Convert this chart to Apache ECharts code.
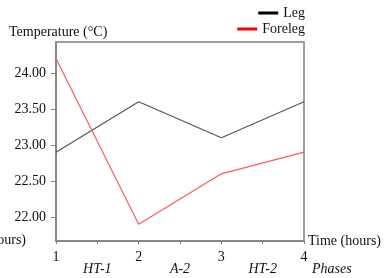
<!DOCTYPE html>
<html><head><meta charset="utf-8">
<script src="https://cdn.jsdelivr.net/npm/echarts@6/dist/echarts.min.js"></script>
<style>html,body{margin:0;padding:0;background:#fff}#c{width:385px;height:278px}</style>
</head><body><div id="c"></div>
<script>
const times = [1, 2, 3, 4];
const legValues = [22.9, 23.6, 23.1, 23.6];
const forelegValues = [24.2, 21.9, 22.6, 22.9];
const yTicks = [22.0, 22.5, 23.0, 23.5, 24.0];
const phaseLabels = {1.5: 'HT-1', 2.5: 'A-2', 3.5: 'HT-2'};
const seriesNames = ['Leg', 'Foreleg'];

const font = 'Liberation Serif';
const chart = echarts.init(document.getElementById('c'));
chart.setOption({
  animation: false,
  textStyle: {fontFamily: font},
  title: {text: 'Temperature (°C)', left: 4, top: 20,
    textStyle: {fontFamily: font, fontSize: 14, fontWeight: 'normal', color: '#111'}},
  legend: [
    {data: [seriesNames[0]], right: 80, top: 6, padding: 0, itemWidth: 20, itemHeight: 3, icon: 'rect',
      textStyle: {fontFamily: font, fontSize: 14, color: '#111'}, itemGap: 3},
    {data: [seriesNames[1]], right: 80, top: 22, padding: 0, itemWidth: 20, itemHeight: 3, icon: 'rect',
      textStyle: {fontFamily: font, fontSize: 14, color: '#111'}, itemGap: 3}
  ],
  grid: {left: 56, right: 81, top: 42, bottom: 37, show: true, borderColor: '#808080', borderWidth: 1.5},
  xAxis: [{
    type: 'value', min: 1, max: 4, interval: 0.5,
    axisLine: {lineStyle: {color: '#808080', width: 1.5}},
    axisTick: {show: true, length: 3, lineStyle: {color: '#808080'}},
    axisLabel: {margin: 9, fontSize: 14, color: '#111', fontFamily: font,
      formatter: v => Number.isInteger(v) ? String(v) : ''},
    splitLine: {show: false},
    name: 'Time (hours)', nameLocation: 'end', nameGap: 4,
    nameTextStyle: {fontFamily: font, fontSize: 14, color: '#111'}
  }, {
    type: 'value', min: 1, max: 4, interval: 0.5, position: 'bottom', offset: 18,
    axisLine: {show: false}, axisTick: {show: false}, splitLine: {show: false},
    axisLabel: {margin: 3, fontSize: 14, color: '#111', fontFamily: font, fontStyle: 'italic',
      formatter: v => phaseLabels[v] || ''},
    name: 'Phases', nameLocation: 'end', nameGap: 8,
    nameTextStyle: {fontFamily: font, fontSize: 14, color: '#111', fontStyle: 'italic', verticalAlign: 'top', padding: [3,0,0,0]}
  }],
  yAxis: {
    type: 'value', min: 21.667, max: 24.43,
    axisLine: {show: true, lineStyle: {color: '#808080', width: 1.5}},
    axisTick: {show: true, length: 5, lineStyle: {color: '#808080'}, customValues: yTicks},
    axisLabel: {margin: 10, fontSize: 14, color: '#111', fontFamily: font,
      customValues: yTicks, formatter: v => v.toFixed(2)},
    splitLine: {show: false}
  },
  graphic: [{type: 'text', left: -47, top: 233,
    style: {text: 'Time (hours)', font: '14px "Liberation Serif"', fill: '#111'}}],
  series: [
    {name: seriesNames[0], type: 'line', data: times.map((t, i) => [t, legValues[i]]),
      symbol: 'none', lineStyle: {color: '#555', width: 1.2}, itemStyle: {color: '#000'}},
    {name: seriesNames[1], type: 'line', data: times.map((t, i) => [t, forelegValues[i]]),
      symbol: 'none', lineStyle: {color: '#ff5a5a', width: 1.2}, itemStyle: {color: '#ff0000'}}
  ]
});
</script></body></html>
